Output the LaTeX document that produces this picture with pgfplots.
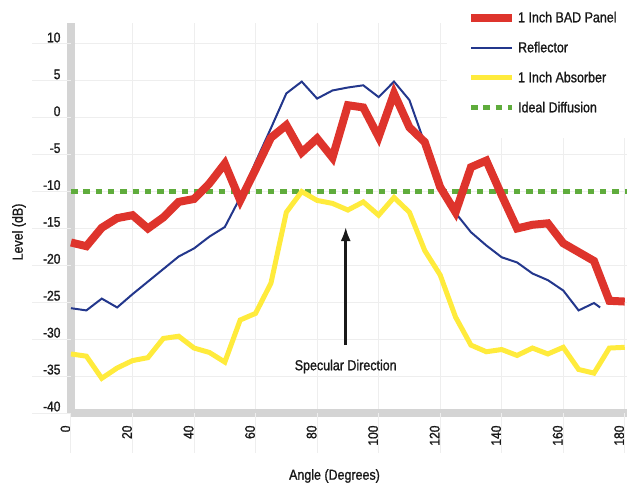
\documentclass[border=0pt]{standalone}
\usepackage{fontspec}
\setmainfont{Liberation Sans}[FakeStretch=0.86, FakeBold=1.2]
\usepackage{pgfplots}
\pgfplotsset{compat=1.18}
\usetikzlibrary{arrows.meta}
\definecolor{cred}{RGB}{222,52,44}
\definecolor{cblue}{RGB}{35,55,140}
\definecolor{cyellow}{RGB}{255,235,60}
\definecolor{cgreen}{RGB}{95,172,60}
\definecolor{axgray}{RGB}{212,212,212}
\definecolor{gridc}{RGB}{238,238,238}
\definecolor{txt}{RGB}{25,25,25}
\pgfplotsset{
  layers/gridbelow/.define layer set={
    axis background, axis grid, main, axis ticks, axis lines,
    axis tick labels, axis descriptions, axis foreground
  }{},
}
\begin{document}
\begin{tikzpicture}
\begin{axis}[
  set layers=gridbelow,
  scale only axis, width=555.6pt, height=389.7pt,
  xmin=0, xmax=180.6, ymin=-40, ymax=12.8,
  clip=false,
  axis x line*=bottom, axis y line*=left,
  axis line style={-, line width=8.5pt, color=axgray},
  every outer x axis line/.append style={-},
  every outer y axis line/.append style={-},
  xtick={0,20,...,180}, ytick={-40,-35,...,10},
  major tick length=0pt,
  grid=major,
  grid style={gridc, line width=1pt},
  /pgf/number format/assume math mode=true,
  tick label style={font=\fontsize{14}{16}\selectfont, text=txt},
  yticklabel style={anchor=east, xshift=-7pt, yshift=6.5pt},
  xticklabel style={rotate=90, anchor=east, xshift=-9pt, yshift=5.5pt},
  xlabel={Angle (Degrees)},
  ylabel={Level (dB)},
  label style={font=\fontsize{14.5}{17}\selectfont, text=txt},
  xlabel style={at={(axis description cs:0,0)}, anchor=center, xshift=263.5pt, yshift=-63pt},
  ylabel style={at={(axis description cs:-0.0936,0.4645)}, anchor=center, rotate=0},
  legend style={at={(axis description cs:0.6766,1.0916)}, anchor=north west, draw=none, fill=white,
    inner xsep=20pt, inner ysep=22pt, row sep=14pt,
    font=\fontsize{14.5}{17}\selectfont, text=txt},
  legend cell align=left,
  legend image code/.code={\draw[#1] (0pt,0pt) -- (41pt,0pt);},
]
% grid extensions into the label area
\pgfplotsinvokeforeach{-40,-35,...,10}{\draw[gridc, line width=1pt] (axis cs:0,#1) -- ++(-39pt,0pt);}
\pgfplotsinvokeforeach{0,20,...,180}{\draw[gridc, line width=1pt] (axis cs:#1,-40) -- ++(0pt,-40pt);}

\addlegendimage{cred, line width=8pt}
\addlegendentry{1 Inch BAD Panel}
\addlegendimage{cblue, line width=2pt}
\addlegendentry{Reflector}
\addlegendimage{cyellow, line width=5pt}
\addlegendentry{1 Inch Absorber}
\addlegendimage{cgreen, line width=5pt, dash pattern=on 6.5pt off 5.8pt}
\addlegendentry{Ideal Diffusion}

% Ideal diffusion
\addplot[cgreen, line width=5pt, dash pattern=on 6.5pt off 5.8pt, forget plot] coordinates {(0,-10) (180.6,-10)};

% 1 Inch Absorber
\addplot[cyellow, line width=5pt, forget plot] table {
a v
0 -32.0
5 -32.3
10 -35.3
15 -33.9
20 -32.9
25 -32.5
30 -29.9
35 -29.6
40 -31.2
45 -31.8
50 -33.1
55 -27.4
60 -26.5
65 -22.4
70 -12.8
75 -10.0
80 -11.2
85 -11.6
90 -12.5
95 -11.4
100 -13.2
105 -10.8
110 -12.8
115 -18.0
120 -21.3
125 -27.0
130 -30.8
135 -31.7
140 -31.4
145 -32.2
150 -31.2
155 -32.0
160 -31.1
165 -34.1
170 -34.6
175 -31.2
180 -31.1
};

% Reflector
\addplot[cblue, line width=2pt, forget plot] table {
a v
0 -25.8
5 -26.1
10 -24.5
15 -25.7
20 -23.9
25 -22.2
30 -20.5
35 -18.8
40 -17.7
45 -16.1
50 -14.8
55 -10.8
60 -6.0
65 -1.4
70 3.3
75 4.9
80 2.6
85 3.7
90 4.1
95 4.4
100 2.8
105 4.9
110 2.4
115 -3.5
120 -9.0
125 -12.9
130 -15.5
135 -17.3
140 -18.9
145 -19.6
150 -21.1
155 -22.0
160 -23.4
165 -26.1
170 -25.1
172 -25.7
};

% 1 Inch BAD Panel
\addplot[cred, line width=8pt, forget plot] table {
a v
0 -16.9
5 -17.4
10 -14.9
15 -13.6
20 -13.2
25 -15.0
30 -13.5
35 -11.4
40 -11.0
45 -8.9
50 -6.2
55 -11.2
60 -7.0
65 -2.7
70 -1.0
75 -4.7
80 -2.8
85 -5.4
90 1.7
95 1.4
100 -2.6
105 3.3
110 -1.3
115 -3.3
120 -9.4
125 -12.8
130 -6.7
135 -5.8
140 -10.5
145 -15.0
150 -14.5
155 -14.3
160 -17.0
165 -18.2
170 -19.4
175 -24.8
180 -24.9
};

\draw[txt, line width=2.5pt, -{Latex[length=14pt, width=10pt]}] (axis cs:89.3,-30.8) -- (axis cs:89.3,-14.8);
\node[txt, font=\fontsize{14.5}{17}\selectfont] at (axis cs:89.3,-33.7) {Specular Direction};
\end{axis}
\pgfresetboundingbox
\useasboundingbox (-71pt,-72pt) rectangle (556pt,413pt);
\end{tikzpicture}
\end{document}
